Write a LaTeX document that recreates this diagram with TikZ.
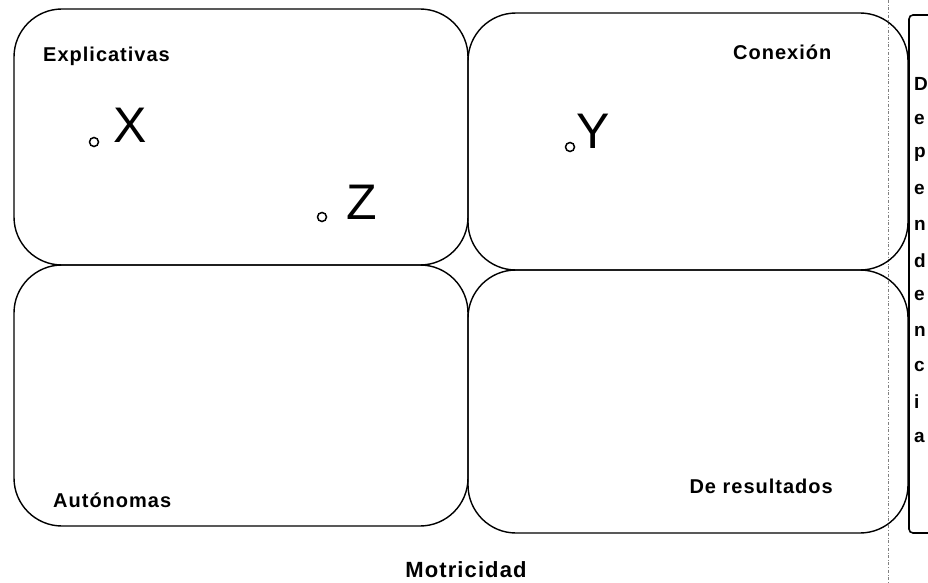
\documentclass[tikz,border=0pt]{standalone}
\usepackage{fontspec}
\setmainfont{Liberation Sans}
\newfontfamily\lblfont[LetterSpace=5]{Liberation Sans}
\usetikzlibrary{shapes,positioning}

\begin{document}
\begin{tikzpicture}[x=1pt, y=-1pt]
    % Styles
    \tikzstyle{quad} = [rectangle, draw, line width=1.4pt, rounded corners=48pt, inner sep=0pt]
    \tikzstyle{tag} = [font=\lblfont\bfseries\fontsize{20}{22}\selectfont, inner sep=0pt]
    \tikzstyle{var} = [font=\fontsize{50}{54}\selectfont, inner sep=0pt]
    \tikzstyle{dot} = [circle, draw, line width=1.5pt, minimum size=9pt, inner sep=0pt]
    \tikzstyle{letter} = [font=\bfseries\fontsize{19}{20}\selectfont, inner sep=0pt]

    \useasboundingbox (0,0) rectangle (928,583);
    \fill[white] (0,0) rectangle (928,583);

    % margin line
    \coordinate (mtop) at (888,0);
    \coordinate (mbot) at (888,583);
    \draw [thin, dash dot, gray] (mtop) -- (mbot);

    % Quadrants
    \node [quad, minimum width=454pt, minimum height=256pt] (expl) at (241,137) {};
    \node [quad, minimum width=454pt, minimum height=261pt] (auto) at (241,395.5) {};
    \node [quad, minimum width=440pt, minimum height=257pt] (conex) at (688,141.5) {};
    \node [quad, minimum width=440pt, minimum height=263pt] (resul) at (688,401.5) {};

    % Side box
    \node [rectangle, draw, line width=1.6pt, rounded corners=4pt, minimum width=30pt, minimum height=518pt] (dep) at (924,274) {};
    \foreach \l [count=\i from 0] in {D,e,p,e,n,d,e,n,c,i,a}
        \node [letter, anchor=west] (dep\i) at (914,84+35.3*\i) {\l};

    % Labels
    \node [tag, anchor=west] (lexpl) at (43,56) {Explicativas};
    \node [tag, anchor=west] (lconex) at (733,52) {Conexión};
    \node [tag, anchor=west] (lauto) at (53,500) {Autónomas};
    \node [tag, anchor=east] (lresul) at (833,486) {De resultados};
    \node [tag, font=\lblfont\bfseries\fontsize{22}{24}\selectfont] (motr) at (466,570) {Motricidad};

    % Variables
    \node [dot] (px) at (94,142) {};
    \node [var] (vx) at (130,125) {X};
    \node [dot] (pz) at (322,217) {};
    \node [var] (vz) at (362,202) {Z};
    \node [dot] (py) at (570,147) {};
    \node [var] (vy) at (593,131) {Y};
\end{tikzpicture}
\end{document}
